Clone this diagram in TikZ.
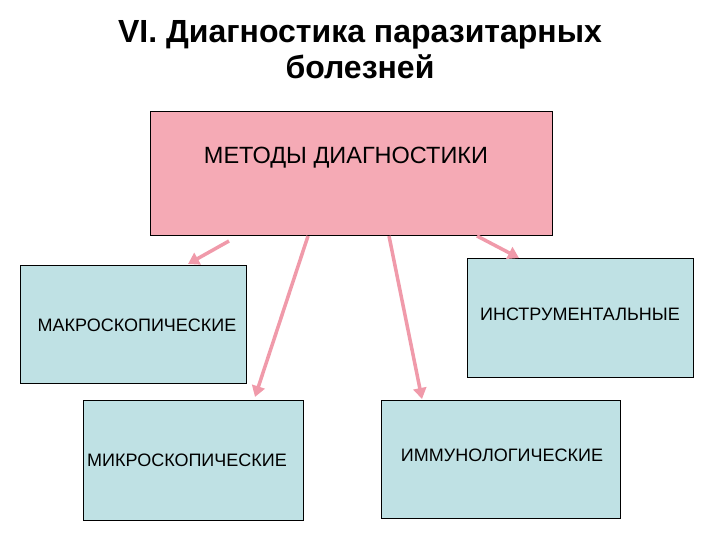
\documentclass[tikz,border=0pt]{standalone}
\usepackage{fontspec}
\setmainfont{Liberation Sans}
\usetikzlibrary{arrows.meta}
\definecolor{pinkf}{HTML}{F5AAB5}
\definecolor{bluef}{HTML}{BFE1E4}
\definecolor{arr}{HTML}{F09AAA}
\begin{document}
\begin{tikzpicture}[x=1pt,y=-1pt,
  box/.style={draw=black,line width=0.6pt,fill=bluef},
  lbl/.style={font=\fontsize{18}{20}\selectfont},
  conn/.style={draw=arr,line width=3.5pt,-{Triangle[length=11pt,width=13pt]}}]
\useasboundingbox (0,0) rectangle (720,540);
\node[align=center,font=\bfseries\fontsize{32}{36}\selectfont] (title) at (360,50) {VI. Диагностика паразитарных\\болезней};
\draw[draw=black,line width=0.6pt,fill=pinkf] (150,111) rectangle (552,235);
\node[font=\fontsize{23.5}{26}\selectfont] (m) at (346,158) {МЕТОДЫ ДИАГНОСТИКИ};
\draw[box] (20,265) rectangle (246,383);
\node[lbl] (mak) at (137,325) {МАКРОСКОПИЧЕСКИЕ};
\draw[box] (83,400) rectangle (303,520);
\node[lbl] (mik) at (187,460) {МИКРОСКОПИЧЕСКИЕ};
\draw[box] (467,258) rectangle (693,377);
\node[lbl] (ins) at (580,314) {ИНСТРУМЕНТАЛЬНЫЕ};
\draw[box] (381,400) rectangle (620,518);
\node[lbl] (imm) at (502,455) {ИММУНОЛОГИЧЕСКИЕ};
\coordinate (s1) at (229,241); \coordinate (e1) at (188,264);
\coordinate (s2) at (308,236); \coordinate (e2) at (255,397);
\coordinate (s3) at (389,236); \coordinate (e3) at (422,399);
\coordinate (s4) at (477,236); \coordinate (e4) at (519,258);
\draw[conn] (s1) -- (e1);
\draw[conn] (s2) -- (e2);
\draw[conn] (s3) -- (e3);
\draw[conn] (s4) -- (e4);
\end{tikzpicture}
\end{document}
